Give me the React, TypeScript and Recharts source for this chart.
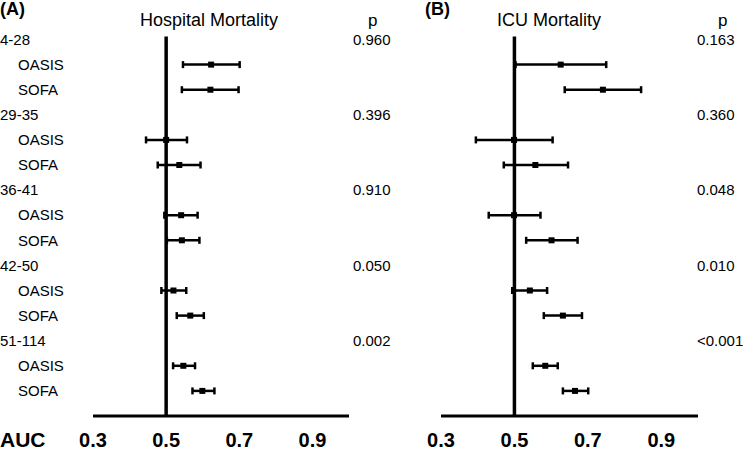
import { ComposedChart, Scatter, ErrorBar, XAxis, YAxis, ReferenceLine } from "recharts"

const groups = ["4-28", "29-35", "36-41", "42-50", "51-114"]
const scores = ["OASIS", "SOFA"]
const xTicks = [0.3, 0.5, 0.7, 0.9]

// AUC with 95% CI, order: OASIS, SOFA for each age group
const hospAuc = [0.623, 0.621, 0.5, 0.536, 0.541, 0.543, 0.52, 0.566, 0.547, 0.599]
const hospLow = [0.546, 0.543, 0.445, 0.477, 0.495, 0.502, 0.487, 0.529, 0.519, 0.572]
const hospHigh = [0.701, 0.698, 0.557, 0.594, 0.586, 0.591, 0.555, 0.603, 0.579, 0.632]
const hospP = ["0.960", "0.396", "0.910", "0.050", "0.002"]

const icuAuc = [0.626, 0.741, 0.499, 0.557, 0.499, 0.601, 0.542, 0.632, 0.584, 0.665]
const icuLow = [0.503, 0.637, 0.395, 0.471, 0.43, 0.532, 0.494, 0.58, 0.55, 0.632]
const icuHigh = [0.75, 0.845, 0.604, 0.646, 0.571, 0.672, 0.589, 0.684, 0.618, 0.701]
const icuP = ["0.163", "0.360", "0.048", "0.010", "<0.001"]

const rowLabels = groups.flatMap((g) => [g, ...scores])
const rowTicks = rowLabels.map((_, i) => i)
const groupTicks = groups.map((_, i) => i * 3)
const groupRows = groupTicks.map((r) => ({ x: 0.5, y: r }))
const font = "'Liberation Sans', Arial, sans-serif"

const toPoints = (auc: number[], low: number[], high: number[]) =>
  auc.map((v, i) => ({
    x: v,
    y: Math.floor(i / 2) * 3 + (i % 2) + 1,
    err: [v - low[i], high[i] - v],
  }))

const Square = (props: any) => (
  <rect x={props.cx - 3} y={props.cy - 3} width={6} height={6} fill="#000" />
)
const Nothing = () => <g />

function Panel({ points, pValues, width, left, pWidth, pDx, showLabels }: any) {
  const rowTick = (p: any) => {
    const label = rowLabels[p.payload.value]
    const isGroup = p.payload.value % 3 === 0
    return (
      <text x={isGroup ? 0 : 18} y={p.y} dy="0.35em" fontSize={15} fill="#000" textAnchor="start">
        {label}
      </text>
    )
  }
  const pTick = (p: any) => (
    <text x={p.x + pDx} y={p.y} dy="0.35em" fontSize={15} fill="#000" textAnchor="start">
      {pValues[Math.round(p.payload.value / 3)]}
    </text>
  )
  return (
    <ComposedChart
      width={width}
      height={452}
      margin={{ top: 36.5, right: 0, bottom: 0, left: showLabels ? 0 : left }}
      style={{ position: "absolute", left: showLabels ? 0 : 372, top: 0 }}
    >
      <XAxis
        type="number"
        dataKey="x"
        domain={[0.3, 1.0]}
        ticks={xTicks}
        interval={0}
        allowDataOverflow
        height={36}
        tickLine={false}
        tickSize={0}
        tickMargin={17}
        axisLine={{ stroke: "#000", strokeWidth: 3 }}
        tick={{ fill: "#000", fontSize: 20, fontWeight: "bold" }}
        tickFormatter={(v: number) => v.toFixed(1)}
      />
      <YAxis
        yAxisId="rows"
        type="number"
        dataKey="y"
        domain={[-0.12, 15]}
        reversed
        ticks={rowTicks}
        interval={0}
        hide={!showLabels}
        width={left}
        axisLine={false}
        tickLine={false}
        tick={rowTick}
      />
      <YAxis
        yAxisId="p"
        orientation="right"
        type="number"
        dataKey="y"
        domain={[-0.12, 15]}
        reversed
        ticks={groupTicks}
        interval={0}
        width={pWidth}
        axisLine={false}
        tickLine={false}
        tickSize={0}
        tickMargin={0}
        tick={pTick}
      />
      <ReferenceLine yAxisId="rows" x={0.5} stroke="#000" strokeWidth={3.5} />
      <Scatter yAxisId="p" data={groupRows} isAnimationActive={false} shape={Nothing} />
      <Scatter yAxisId="rows" data={points} isAnimationActive={false} shape={Square}>
        <ErrorBar dataKey="err" direction="x" width={3.5} strokeWidth={2.5} stroke="#000" />
      </Scatter>
    </ComposedChart>
  )
}

export default function App() {
  return (
    <div
      style={{
        position: "absolute",
        left: 0,
        top: 0,
        width: 744,
        height: 452,
        background: "#fff",
        fontFamily: font,
      }}
    >
      <Panel
        points={toPoints(hospAuc, hospLow, hospHigh)}
        pValues={hospP}
        width={400}
        left={93}
        pWidth={51}
        pDx={4}
        showLabels
      />
      <Panel
        points={toPoints(icuAuc, icuLow, icuHigh)}
        pValues={icuP}
        width={372}
        left={69}
        pWidth={46}
        pDx={-1}
        showLabels={false}
      />
      <svg
        width={744}
        height={452}
        style={{ position: "absolute", left: 0, top: 0, pointerEvents: "none" }}
        fontFamily={font}
      >
        <text x={0} y={15} fontSize={18} fontWeight="bold">(A)</text>
        <text x={425} y={15} fontSize={18} fontWeight="bold">(B)</text>
        <text x={209} y={26} fontSize={18} textAnchor="middle">Hospital Mortality</text>
        <text x={549} y={26} fontSize={18} textAnchor="middle">ICU Mortality</text>
        <text x={368} y={26} fontSize={17}>p</text>
        <text x={718} y={26} fontSize={17}>p</text>
        <text x={0} y={447} fontSize={21} fontWeight="bold">AUC</text>
      </svg>
    </div>
  )
}
